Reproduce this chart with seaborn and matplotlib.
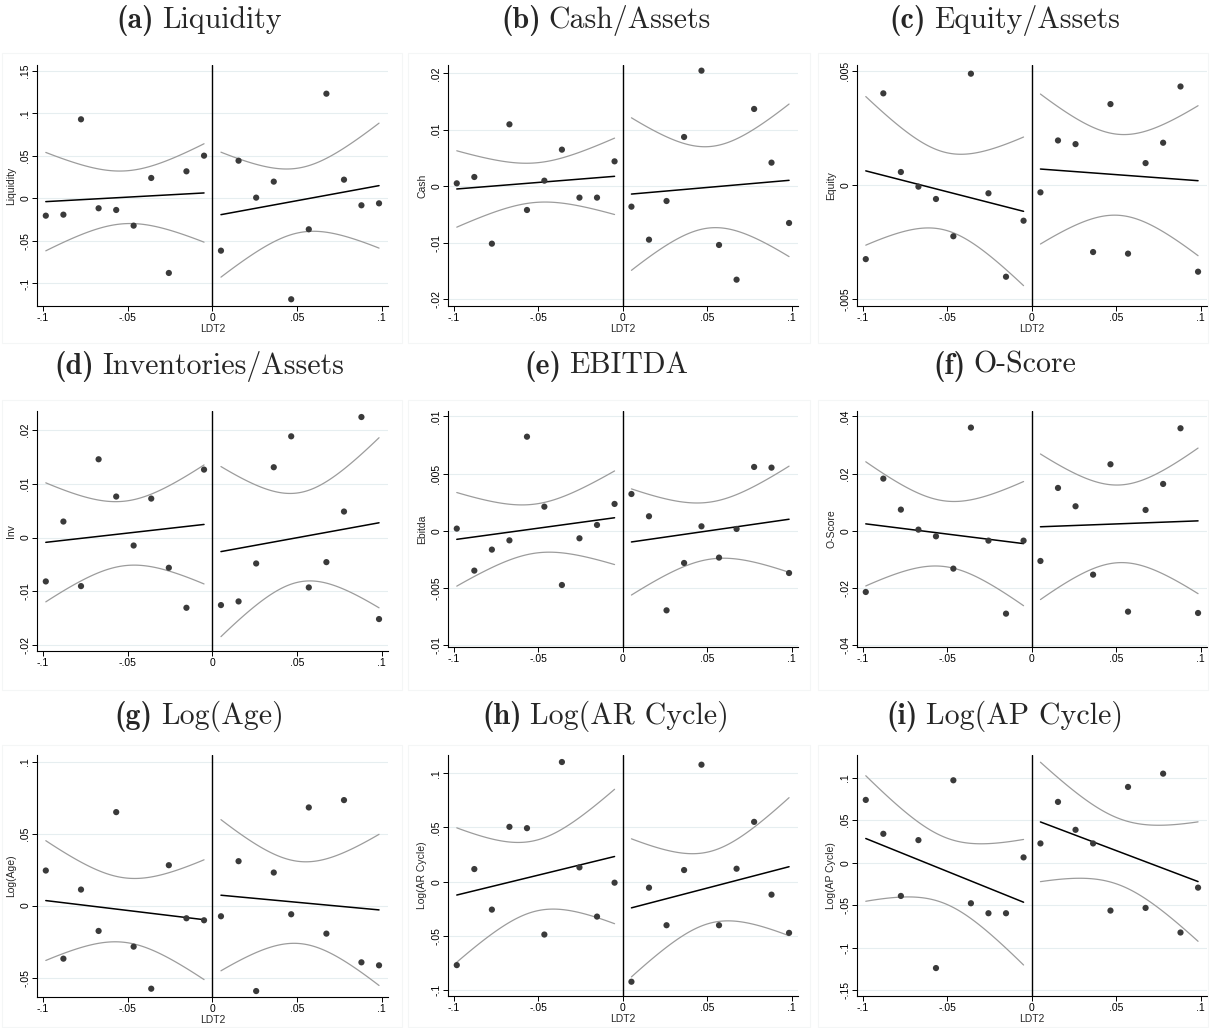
import numpy as np
import matplotlib
matplotlib.use("Agg")
import matplotlib.pyplot as plt
from matplotlib.ticker import FuncFormatter, FixedLocator
from matplotlib.patches import Rectangle
import seaborn as sns

# ---------------- data ----------------
left_x = [-0.0984, -0.0880, -0.0776, -0.0672, -0.0568, -0.0465, -0.0361, -0.0257, -0.0153, -0.0049]
right_x = [0.0051, 0.0155, 0.0259, 0.0363, 0.0466, 0.0570, 0.0674, 0.0778, 0.0881, 0.0985]

letters = ["a", "b", "c", "d", "e", "f", "g", "h", "i"]
titles = ["Liquidity", "Cash/Assets", "Equity/Assets", "Inventories/Assets", "EBITDA",
          "O-Score", "Log(Age)", "Log(AR Cycle)", "Log(AP Cycle)"]
ylabels = ["Liquidity", "Cash", "Equity", "Inv", "Ebitda", "O-Score",
           "Log(Age)", "Log(AR Cycle)", "Log(AP Cycle)"]

liq_left = [-0.0204, -0.0192, 0.0928, -0.0117, -0.0137, -0.0321, 0.0239, -0.0877, 0.0317, 0.0501]
liq_right = [-0.0615, 0.0442, 0.0008, 0.0196, -0.1186, -0.0364, 0.1229, 0.0219, -0.0082, -0.0059]
cash_left = [0.00053, 0.00165, -0.01015, 0.01097, -0.00419, 0.0010, 0.00649, -0.0020, -0.0020, 0.00442]
cash_right = [-0.0036, -0.00944, -0.0026, 0.00873, 0.02047, -0.01038, -0.01652, 0.01369, 0.00419, -0.00649]
eq_left = [-0.00324, 0.00401, 0.00057, -0.00007, -0.00061, -0.00224, 0.00487, -0.00036, -0.00401, -0.00156]
eq_right = [-0.00032, 0.00195, 0.00179, -0.00293, 0.00354, -0.0030, 0.00096, 0.00185, 0.00431, -0.00379]
inv_left = [-0.00817, 0.00297, -0.00904, 0.01455, 0.00762, -0.00149, 0.00724, -0.00563, -0.01307, 0.01263]
inv_right = [-0.01257, -0.01189, -0.00483, 0.01307, 0.01882, -0.00929, -0.00458, 0.00483, 0.02241, -0.01517]
ebit_left = [0.00018, -0.0035, -0.00166, -0.00085, 0.00823, 0.0021, -0.00476, -0.00067, 0.0005, 0.00234]
ebit_right = [0.00321, 0.00126, -0.00698, -0.00283, 0.00038, -0.00236, 0.00015, 0.00558, 0.00552, -0.00371]
osc_left = [-0.02149, 0.01822, 0.00736, 0.00035, -0.00199, -0.01331, 0.03609, -0.0035, -0.02908, -0.0035]
osc_right = [-0.01063, 0.01495, 0.00853, -0.01542, 0.02324, -0.02838, 0.00724, 0.01635, 0.03585, -0.02885]
age_left = [0.02435, -0.03687, 0.01113, -0.01762, 0.06492, -0.02852, -0.05773, 0.02805, -0.00881, -0.0102]
age_right = [-0.00742, 0.03084, -0.05936, 0.02295, -0.00603, 0.06817, -0.01948, 0.07327, -0.03942, -0.0415]
ar_left = [-0.07685, 0.01163, -0.02572, 0.05052, 0.0493, -0.04868, 0.11023, 0.01317, -0.03215, -0.00092]
ar_right = [-0.09216, -0.00551, -0.04011, 0.01072, 0.10778, -0.04011, 0.01194, 0.05511, -0.01194, -0.04715]
ap_left = [0.07394, 0.03404, -0.03912, 0.0266, -0.12402, 0.09703, -0.04773, -0.05947, -0.05947, 0.00626]
ap_right = [0.02269, 0.0716, 0.03873, 0.02269, -0.05634, 0.0892, -0.05321, 0.10485, -0.08216, -0.02934]

points_left = [liq_left, cash_left, eq_left, inv_left, ebit_left, osc_left, age_left, ar_left, ap_left]
points_right = [liq_right, cash_right, eq_right, inv_right, ebit_right, osc_right, age_right, ar_right, ap_right]

# linear fit: value at first bin, value at last bin; CI half-width at centre and at the ends
fit_left = [(-0.0039, 0.0063), (-0.00047, 0.00177), (0.00062, -0.00115), (-0.0009, 0.00243),
            (-0.00076, 0.00113), (0.00237, -0.00455), (0.00348, -0.0098), (-0.0123, 0.0232),
            (0.0285, -0.0465)]
fit_right = [(-0.0192, 0.0149), (-0.00137, 0.00106), (0.0007, 0.00019), (-0.00262, 0.00274),
             (-0.00099, 0.0010), (0.00135, 0.00342), (0.0072, -0.0030), (-0.0241, 0.0138),
             (0.0480, -0.0222)]
ci_left = [(0.031, 0.0578), (0.0035, 0.00676), (0.0017, 0.00325), (0.006, 0.01107),
           (0.00215, 0.0041), (0.0115, 0.02175), (0.0224, 0.0416), (0.0326, 0.0619),
           (0.039, 0.0739)]
ci_right = [(0.038, 0.0734), (0.0072, 0.0135), (0.00177, 0.00328), (0.0083, 0.01582),
            (0.0025, 0.00465), (0.0136, 0.0255), (0.0285, 0.0525), (0.033, 0.0636),
            (0.039, 0.0703)]

yticks = [[-0.1, -0.05, 0, 0.05, 0.1, 0.15],
          [-0.02, -0.01, 0, 0.01, 0.02],
          [-0.005, 0, 0.005],
          [-0.02, -0.01, 0, 0.01, 0.02],
          [-0.01, -0.005, 0, 0.005, 0.01],
          [-0.04, -0.02, 0, 0.02, 0.04],
          [-0.05, 0, 0.05, 0.1],
          [-0.1, -0.05, 0, 0.05, 0.1],
          [-0.15, -0.1, -0.05, 0, 0.05, 0.1]]
ylims = [(-0.1265, 0.1566), (-0.02118, 0.02147), (-0.00529, 0.00525),
         (-0.02111, 0.02353), (-0.01019, 0.01048), (-0.04076, 0.0419),
         (-0.0635, 0.1046), (-0.1053, 0.1167), (-0.1569, 0.1268)]
xticks = [-0.1, -0.05, 0, 0.05, 0.1]

# ---------------- style ----------------
sns.set_style("ticks")
plt.rcParams["font.family"] = ["Liberation Sans", "DejaVu Sans"]

W, H = 1210, 1028
fig = plt.figure(figsize=(W / 100, H / 100), dpi=100)
fig.patch.set_facecolor("white")

# axes rectangles in pixels: left, top, right, bottom
rects = [(37, 65, 388, 306), (448, 65, 798, 306), (857, 65, 1207, 306),
         (37, 411, 388, 651), (448, 411, 798, 647), (857, 411, 1207, 647),
         (37, 755, 388, 997), (448, 755, 798, 996), (857, 755, 1207, 996)]
title_xy = [(199, 17), (606, 17), (1005, 17),
            (199, 362), (606, 362), (1005, 362),
            (199, 712), (606, 712), (1005, 712)]

# faint graph-region frames
for (fx, fy, fw, fh) in [(2, 53, 400, 290), (408, 53, 402, 290), (818, 53, 390, 290),
                         (2, 400, 400, 290), (408, 400, 402, 290), (818, 400, 390, 290),
                         (2, 745, 400, 282), (408, 745, 402, 282), (818, 745, 390, 282)]:
    fig.patches.append(Rectangle((fx / W, 1 - (fy + fh) / H), fw / W, fh / H,
                                 transform=fig.transFigure, fill=False,
                                 edgecolor="#f4f6f6", lw=0.8, zorder=0))


def stata_fmt(v, pos=None):
    if abs(v) < 1e-12:
        return "0"
    return f"{v:g}".replace("0.", ".", 1)


dot_color = "#3a3a3a"
ci_color = "#9c9c9c"
grid_color = "#e6eef0"

renderer = fig.canvas.get_renderer()

for k in range(9):
    l, t, r, b = rects[k]
    ax = fig.add_axes([l / W, 1 - b / H, (r - l) / W, (b - t) / H])
    ax.set_xlim(-0.1036, 0.1038)
    ax.set_ylim(*ylims[k])

    for xs, ys, fit, ci in [(left_x, points_left[k], fit_left[k], ci_left[k]),
                            (right_x, points_right[k], fit_right[k], ci_right[k])]:
        x0, x1 = xs[0], xs[-1]
        xl = np.linspace(x0, x1, 120)
        yfit = fit[0] + (fit[1] - fit[0]) * (xl - x0) / (x1 - x0)
        u = (xl - (x0 + x1) / 2) / ((x1 - x0) / 2)
        hw = np.sqrt(ci[0] ** 2 + (ci[1] ** 2 - ci[0] ** 2) * u ** 2)
        sns.lineplot(x=xl, y=yfit + hw, ax=ax, color=ci_color, lw=0.9, sort=False,
                     estimator=None, zorder=3)
        sns.lineplot(x=xl, y=yfit - hw, ax=ax, color=ci_color, lw=0.9, sort=False,
                     estimator=None, zorder=3)
        sns.lineplot(x=xl, y=yfit, ax=ax, color="black", lw=1.1, sort=False,
                     estimator=None, zorder=4)
        sns.scatterplot(x=xs, y=ys, ax=ax, s=20, color=dot_color, edgecolor="none",
                        linewidth=0, zorder=5)

    ax.axvline(0, color="black", lw=1.0, zorder=4)

    ax.yaxis.set_major_locator(FixedLocator(yticks[k]))
    ax.xaxis.set_major_locator(FixedLocator(xticks))
    ax.yaxis.set_major_formatter(FuncFormatter(stata_fmt))
    ax.xaxis.set_major_formatter(FuncFormatter(stata_fmt))
    ax.yaxis.grid(True, color=grid_color, lw=0.8, zorder=0)
    ax.xaxis.grid(False)
    ax.set_axisbelow(True)

    sns.despine(ax=ax)
    for sp in ["left", "bottom"]:
        ax.spines[sp].set_color("black")
        ax.spines[sp].set_linewidth(0.8)
    ax.tick_params(axis="both", direction="out", length=3.5, width=0.7,
                   labelsize=7.5, pad=1.2, colors="black")
    for lab in ax.get_yticklabels():
        lab.set_rotation(90)
        lab.set_va("center")

    ax.set_ylabel(ylabels[k], fontsize=7.5, labelpad=3)
    if k // 3 == 1:
        ax.set_xlabel("")
    else:
        ax.set_xlabel("LDT2", fontsize=7.5, labelpad=1)

    # title: bold "(x)" in cmb10, then regular text in cmr10, centred as a whole
    tx, ty = title_xy[k]
    t1 = fig.text(0, 1 - ty / H, "(" + letters[k] + ")", family="cmb10", fontsize=21.5,
                  ha="left", va="center_baseline")
    t2 = fig.text(0, 1 - ty / H, titles[k], family="cmr10", fontsize=21.5,
                  ha="left", va="center_baseline")
    w1 = t1.get_window_extent(renderer).width
    w2 = t2.get_window_extent(renderer).width
    gap = 8
    x_start = tx - (w1 + gap + w2) / 2
    t1.set_x(x_start / W)
    t2.set_x((x_start + w1 + gap) / W)

fig.savefig("out.png", dpi=100, facecolor="white")
